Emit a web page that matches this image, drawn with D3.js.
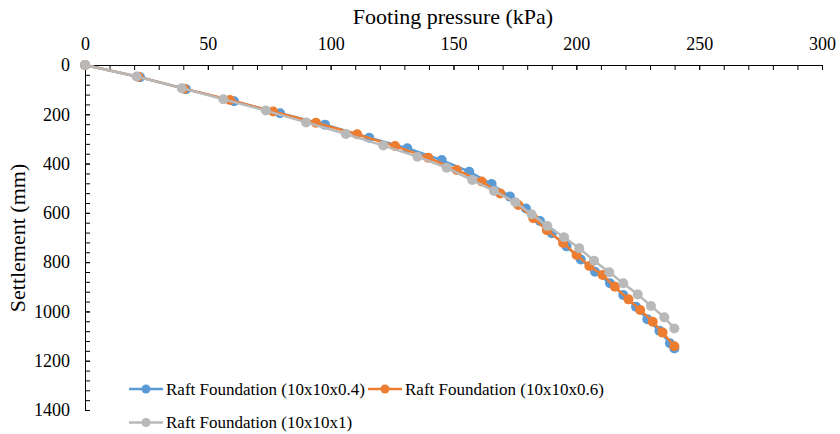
<!DOCTYPE html>
<html>
<head>
<meta charset="utf-8">
<script src="https://cdn.jsdelivr.net/npm/d3@7"></script>
<style>
  body { margin: 0; background: #fff; }
</style>
</head>
<body>
<div id="chart"></div>
<script>
// pressure (kPa) and settlement (mm)
const p04 = [0, 22.4, 41.1, 60.7, 79.4, 97.7, 115.7, 131.2, 145.2, 156.4, 165.5, 173, 179.5, 185.2, 190, 196, 201.8, 207.6, 213.7, 219.1, 224.3, 228.9, 233.8, 238.1, 239.9];
const s04 = [0, 50, 98, 147, 196, 242, 295, 338, 386, 433, 483, 534, 582, 633, 683, 736, 789, 839, 886, 933, 981, 1032, 1078, 1129, 1150];

const p06 = [0, 21.7, 40.3, 59, 76.6, 94, 110.8, 126.2, 139.7, 151.3, 161.5, 169, 176.4, 182.5, 188, 194.6, 200.1, 205.3, 210.7, 215.7, 221.2, 226, 231.1, 235.1, 239.9];
const s06 = [0, 47.5, 96, 142, 189, 234, 281, 329, 376, 426, 473, 521, 568, 622, 670, 722, 771, 816, 852, 900, 951, 994, 1042, 1086, 1141];

const p1 = [0, 21, 39.4, 56.3, 73.6, 90, 106.2, 121.4, 135.3, 147.2, 157.6, 166.5, 175.2, 181.8, 188.2, 195, 201.2, 207.2, 213.4, 219.1, 225, 230.4, 235.8, 239.9];
const s1 = [0, 47, 94, 139, 185, 233, 280, 327, 372, 417, 467, 511, 557, 606, 653, 699, 744, 794, 841, 886, 931, 978, 1024, 1069];

const seriesNames = ["Raft Foundation (10x10x0.4)", "Raft Foundation (10x10x0.6)", "Raft Foundation (10x10x1)"];
const xTicks = [0, 50, 100, 150, 200, 250, 300];
const yTicks = [0, 200, 400, 600, 800, 1000, 1200, 1400];

const colors = ["#5B9BD5", "#ED7D31", "#B9B9B9"];
const font = "'Liberation Serif', 'DejaVu Serif', serif";

const width = 840;
const height = 434;

const series = [
  { name: seriesNames[0], color: colors[0], pts: p04.map((p, i) => [p, s04[i]]) },
  { name: seriesNames[1], color: colors[1], pts: p06.map((p, i) => [p, s06[i]]) },
  { name: seriesNames[2], color: colors[2], pts: p1.map((p, i) => [p, s1[i]]) }
];

const svg = d3.select("#chart")
  .append("svg")
  .attr("width", width)
  .attr("height", height)
  .style("font-family", font);

const x = d3.scaleLinear().domain([0, 300]).range([85, 822]);
const y = d3.scaleLinear().domain([0, 1400]).range([65, 410]);

// minor ticks
svg.append("g")
  .attr("transform", `translate(0,${y(0)})`)
  .call(d3.axisTop(x).tickValues(d3.range(0, 301, 10)).tickSize(-5).tickFormat(""))
  .call(g => g.select(".domain").remove())
  .selectAll("line").attr("stroke", "#000");

svg.append("g")
  .attr("transform", `translate(${x(0)},0)`)
  .call(d3.axisLeft(y).tickValues(d3.range(0, 1401, 40)).tickSize(-5).tickFormat(""))
  .call(g => g.select(".domain").remove())
  .selectAll("line").attr("stroke", "#000");

// main axes
svg.append("g")
  .attr("transform", `translate(0,${y(0)})`)
  .call(d3.axisTop(x).tickValues(xTicks).tickSize(-5).tickSizeOuter(0).tickPadding(15).tickFormat(d3.format("d")))
  .call(g => g.select(".domain").attr("stroke", "#000"));

svg.append("g")
  .attr("transform", `translate(${x(0)},0)`)
  .call(d3.axisLeft(y).tickValues(yTicks).tickSize(-5).tickSizeOuter(0).tickPadding(15).tickFormat(d3.format("d")))
  .call(g => g.select(".domain").attr("stroke", "#000"));

svg.selectAll("g").attr("font-family", font).attr("font-size", null);
svg.selectAll(".tick text")
  .style("font-family", font)
  .style("font-size", "18px")
  .attr("fill", "#000");

// titles
svg.append("text")
  .attr("x", 453).attr("y", 24)
  .attr("text-anchor", "middle")
  .style("font-family", font)
  .style("font-size", "22px")
  .text("Footing pressure (kPa)");

svg.append("text")
  .attr("transform", "translate(25,238) rotate(-90)")
  .attr("text-anchor", "middle")
  .style("font-family", font)
  .style("font-size", "22px")
  .text("Settlement (mm)");

const line = d3.line().x(d => x(d[0])).y(d => y(d[1]));

series.forEach(s => {
  const g = svg.append("g");
  g.append("path")
    .attr("d", line(s.pts))
    .attr("fill", "none")
    .attr("stroke", s.color)
    .attr("stroke-width", 2.5);
  g.selectAll("circle")
    .data(s.pts)
    .join("circle")
    .attr("cx", d => x(d[0]))
    .attr("cy", d => y(d[1]))
    .attr("r", 5)
    .attr("fill", s.color);
});

// legend
const legendPos = [[129, 389], [368, 389], [129, 422.5]];
series.forEach((s, i) => {
  const [lx, ly] = legendPos[i];
  const g = svg.append("g").attr("transform", `translate(${lx},${ly})`);
  g.append("line").attr("x1", 0).attr("x2", 34).attr("y1", 0).attr("y2", 0)
    .attr("stroke", s.color).attr("stroke-width", 2.5);
  g.append("circle").attr("cx", 17).attr("cy", 0).attr("r", 4.5).attr("fill", s.color);
  g.append("text").attr("x", 37).attr("y", 5.5)
    .style("font-family", font)
    .style("font-size", "17px")
    .text(s.name);
});
</script>
</body>
</html>
